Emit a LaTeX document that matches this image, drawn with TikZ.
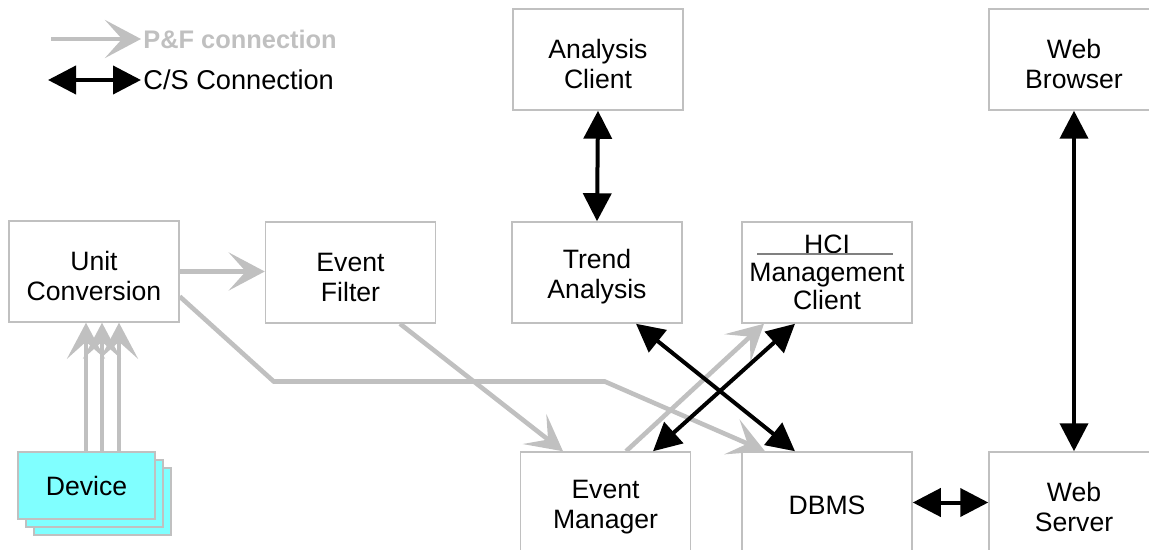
\documentclass[tikz,border=0pt]{standalone}
\usepackage{fontspec}
\setmainfont{Liberation Sans}
\usepackage{xcolor}
\usepackage{tikz}
\usetikzlibrary{arrows.meta}
\definecolor{lgray}{HTML}{C0C0C0}
\definecolor{dgray}{HTML}{808080}
\definecolor{cyanf}{HTML}{80FFFF}
\tikzset{
  pf/.style={-{Stealth[length=18pt,width=19pt,inset=8.5pt]},line width=2.3pt,lgray},
  cs/.style={{Triangle[length=14pt,width=14pt]}-{Triangle[length=14pt,width=14pt]},line width=2pt,black},
  box/.style={draw=lgray,line width=0.75pt,minimum width=85pt,minimum height=50.5pt,align=center,inner sep=0pt,
    font=\fontsize{13.3}{15}\selectfont},
  box2/.style={box,execute at begin node={\rule{0pt}{29pt}}},
  devbox/.style={draw=lgray,line width=0.75pt,fill=cyanf,minimum width=68.5pt,minimum height=33.5pt,inner sep=0pt,font=\fontsize{13.3}{15}\selectfont}
}

\begin{document}
\begin{tikzpicture}[x=0.5pt,y=-0.5pt]
\useasboundingbox (0,0) rectangle (1149,550);
% legend
\node[anchor=west,inner sep=1pt,font=\bfseries\fontsize{12.7}{15}\selectfont,lgray] (pft) at (141,39) {P\&F connection};
\node[anchor=west,inner sep=1pt,font=\fontsize{13.6}{15}\selectfont] (cst) at (141,80) {C/S Connection};
\coordinate (pfa) at (51,39); \coordinate (csa) at (48,80);
\draw[pf] (pfa) -- (pft.west);
\draw[cs] (csa) -- (cst.west);
% boxes
\node[box2] (ac) at (598,59.5) {Analysis\\Client};
\node[box2] (wb) at (1074,59.5) {Web\\Browser};
\node[box2] (uc) at (94,271.5) {Unit\\Conversion};
\node[box2] (ef) at (350.5,272.5) {Event\\Filter};
\node[box2] (ta) at (597,272.5) {Trend\\Analysis};
\node[box,font=\fontsize{13.3}{14}\selectfont] (hci) at (827,272.5) {HCI\\Management\\Client};
\node[box2] (em) at (605.5,502.5) {Event\\Manager};
\node[box,execute at begin node={\rule{0pt}{12.5pt}}] (dbms) at (827,502.5) {DBMS};
\node[box2] (ws) at (1074,502.5) {Web\\Server};
\draw[dgray,line width=1.3pt] ([xshift=-35pt,yshift=9.25pt]hci.center) -- ([xshift=33pt,yshift=9.25pt]hci.center);
% device stack
\coordinate (devp) at (86.5,485.5);
\node[devbox] (dev3) at ([xshift=8pt,yshift=-8pt]devp) {};
\node[devbox] (dev2) at ([xshift=4pt,yshift=-4pt]devp) {};
\node[devbox] (dev) at (devp) {Device};
% P&F connections
\foreach \dx/\ex in {-0.25/-4,7.75/4,16.25/12.5}
  \draw[pf] ([xshift=\dx pt]dev.north) -- ([xshift=\ex pt]uc.south);
\draw[pf] (uc.east) -- (uc.east -| ef.west);
\draw[pf] ([yshift=-12.5pt]uc.east) -- ++(94,85) -- ++(331,0) -- ([xshift=-31pt]dbms.north);
\draw[pf] ([xshift=24.75pt]ef.south) -- ([xshift=-21.25pt]em.north);
\draw[pf] ([xshift=10.25pt]em.north) -- ([xshift=-31.5pt]hci.south);
% C/S connections
\draw[cs] (ac.south) -- (ta.north);
\draw[cs] (wb.south) -- (ws.north);
\draw[cs] (dbms.east) -- (ws.west);
\draw[cs] ([xshift=19.5pt]ta.south) -- ([xshift=-16pt]dbms.north);
\draw[cs] ([xshift=23.75pt]em.north) -- ([xshift=-16pt]hci.south);
\end{tikzpicture}
\end{document}
